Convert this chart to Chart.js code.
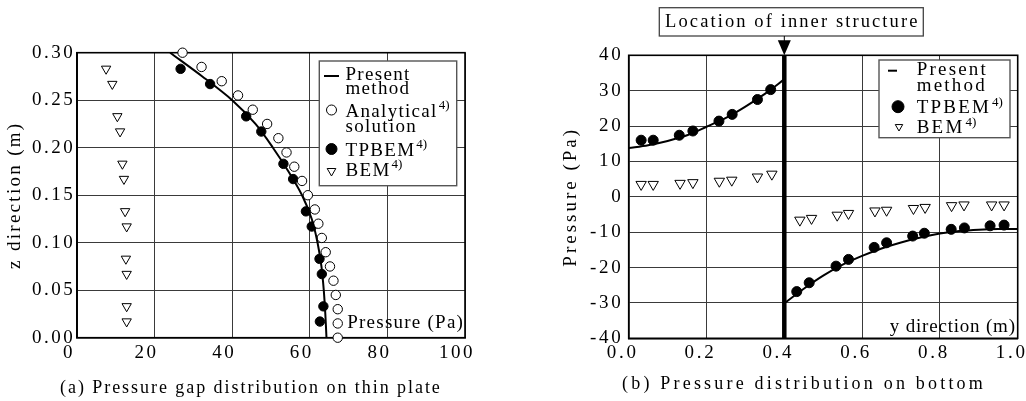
<!DOCTYPE html>
<html><head><meta charset="utf-8">
<script src="https://cdn.jsdelivr.net/npm/chart.js@4.4.1/dist/chart.umd.min.js"></script>
<style>
html,body{margin:0;padding:0;background:#fff;}
#wrap{position:relative;width:1026px;height:401px;overflow:hidden;background:#fff;}
#c1{position:absolute;left:0;top:0;}
#c2{position:absolute;left:513px;top:0;}
.cap{position:absolute;font-family:'Liberation Serif','Times New Roman',serif;font-size:18px;line-height:18px;color:#000;white-space:nowrap;}
#capA{left:60px;top:378px;letter-spacing:1.95px;}
#capB{left:622px;top:374px;letter-spacing:3.2px;}
</style></head><body>
<div id="wrap">
<canvas id="c1" width="513" height="401"></canvas>
<canvas id="c2" width="513" height="401"></canvas>
<div class="cap" id="capA">(a) Pressure gap distribution on thin plate</div>
<div class="cap" id="capB">(b) Pressure distribution on bottom</div>
</div>
<script>
// ---------- (a) Pressure gap distribution on thin plate ----------
const aXTicks = [0, 20, 40, 60, 80, 100];
const aYTicks = [0.00, 0.05, 0.10, 0.15, 0.20, 0.25, 0.30];
const aPresentZ = [0.300, 0.275, 0.250, 0.225, 0.200, 0.175, 0.150, 0.125, 0.100, 0.075, 0.050, 0.025, 0.000];
const aPresentP = [24.0, 32.3, 40.0, 46.0, 50.5, 54.5, 58.0, 60.5, 62.0, 63.0, 63.6, 64.0, 64.3];
const aAnalyticalZ = [0.300, 0.285, 0.270, 0.255, 0.240, 0.225, 0.210, 0.195, 0.180, 0.165, 0.150, 0.135, 0.120, 0.105, 0.090, 0.075, 0.060, 0.045, 0.030, 0.015, 0.000];
const aAnalyticalP = [27.2, 32.1, 37.3, 41.5, 45.3, 49.0, 51.9, 54.0, 56.0, 58.0, 59.5, 61.3, 62.2, 63.1, 64.1, 65.2, 66.1, 66.7, 67.2, 67.2, 67.2];
const aTPBEMZ = [0.283, 0.267, 0.233, 0.217, 0.183, 0.167, 0.133, 0.117, 0.083, 0.067, 0.033, 0.017];
const aTPBEMP = [26.7, 34.3, 43.6, 47.5, 53.2, 55.7, 59.0, 60.5, 62.5, 63.1, 63.5, 62.6];
const aBEMZ = [0.283, 0.267, 0.233, 0.217, 0.183, 0.167, 0.133, 0.117, 0.083, 0.067, 0.033, 0.017];
const aBEMP = [7.5, 9.1, 10.4, 11.1, 11.7, 12.1, 12.4, 12.8, 12.6, 12.8, 12.8, 12.8];

// ---------- (b) Pressure distribution on bottom ----------
const bXTicks = [0.0, 0.2, 0.4, 0.6, 0.8, 1.0];
const bYTicks = [-40, -30, -20, -10, 0, 10, 20, 30, 40];
const innerStructureY = 0.4;
const bPresentLeftY = [0.00, 0.05, 0.10, 0.15, 0.20, 0.25, 0.30, 0.35, 0.40];
const bPresentLeftP = [13.8, 14.6, 15.8, 17.4, 19.8, 22.3, 25.5, 29.1, 33.2];
const bPresentRightY = [0.40, 0.45, 0.50, 0.55, 0.60, 0.65, 0.70, 0.75, 0.80, 0.85, 0.90, 0.95, 1.00];
const bPresentRightP = [-30.1, -26.0, -22.3, -19.2, -16.7, -14.6, -12.9, -11.5, -10.4, -9.7, -9.3, -9.1, -9.1];
const bTPBEMY = [0.032, 0.063, 0.130, 0.165, 0.232, 0.266, 0.331, 0.365, 0.432, 0.464, 0.533, 0.565, 0.631, 0.663, 0.730, 0.760, 0.829, 0.863, 0.929, 0.965];
const bTPBEMP = [16.0, 16.0, 17.4, 18.6, 21.4, 23.3, 27.5, 30.3, -26.8, -24.3, -19.6, -17.7, -14.3, -13.0, -11.1, -10.3, -9.2, -8.8, -8.2, -8.0];
const bBEMY = [0.032, 0.063, 0.132, 0.165, 0.233, 0.265, 0.331, 0.368, 0.440, 0.470, 0.536, 0.565, 0.633, 0.663, 0.732, 0.762, 0.830, 0.862, 0.933, 0.965];
const bBEMP = [3.5, 3.5, 3.8, 4.0, 4.4, 4.7, 5.6, 6.4, -6.6, -6.1, -5.2, -4.7, -4.0, -3.8, -3.3, -3.0, -2.5, -2.3, -2.3, -2.3];

const FONT = "'Liberation Serif', 'Times New Roman', serif";
Chart.defaults.font.family = FONT;
Chart.defaults.font.size = 19;
Chart.defaults.color = '#000';

const pts = (xs, ys) => xs.map((x, i) => ({x: x, y: ys[i]}));

function fixSize(size, horizontal) {
  return function (s) {
    if (horizontal) s.height = size; else s.width = size;
    s.paddingLeft = 0; s.paddingRight = 0; s.paddingTop = 0; s.paddingBottom = 0;
  };
}
function setTicks(arr) { return function (s) { s.ticks = arr.map(v => ({value: v})); }; }

function drawMarker(ctx, ds, x, y, r, len) {
  ctx.save();
  if (!ds.pointRadius) {
    ctx.strokeStyle = ds.borderColor; ctx.lineWidth = ds.borderWidth;
    ctx.beginPath(); ctx.moveTo(x - len / 2, y); ctx.lineTo(x + len / 2, y); ctx.stroke();
  } else {
    ctx.fillStyle = ds.backgroundColor; ctx.strokeStyle = ds.borderColor; ctx.lineWidth = ds.borderWidth;
    if (Chart.helpers && Chart.helpers.drawPoint) {
      Chart.helpers.drawPoint(ctx, {pointStyle: ds.pointStyle, rotation: ds.rotation || 0, radius: r, borderWidth: ds.borderWidth}, x, y);
    } else {
      ctx.beginPath(); ctx.arc(x, y, r, 0, Math.PI * 2); ctx.fill(); ctx.stroke();
    }
  }
  ctx.restore();
}

function spacingPlugin(cfg) {
  return {
    id: 'spacing',
    afterLayout(chart) {
      Object.values(chart.scales).forEach(s => {
        if (s._spWrapped) return;
        s._spWrapped = true;
        const c = cfg[s.id] || {};
        const dl = s.drawLabels.bind(s), dt = s.drawTitle.bind(s);
        s.drawLabels = function (a) { const ctx = this.ctx; ctx.save(); ctx.letterSpacing = c.ticks || '0px'; dl(a); ctx.restore(); };
        s.drawTitle = function (a) { const ctx = this.ctx; ctx.save(); ctx.letterSpacing = c.title || '0px'; dt(a); ctx.restore(); };
      });
    }
  };
}

const framePlugin = {
  id: 'frame',
  beforeDatasetsDraw(chart) {
    const {ctx, chartArea: a} = chart;
    ctx.save(); ctx.strokeStyle = '#000'; ctx.lineWidth = 1.6;
    ctx.strokeRect(a.left, a.top, a.right - a.left, a.bottom - a.top);
    ctx.restore();
  }
};

function legendPlugin(L) {
  return {
    id: 'boxLegend',
    afterDraw(chart) {
      const ctx = chart.ctx;
      ctx.save();
      ctx.fillStyle = '#fff';
      ctx.fillRect(L.box[0], L.box[1], L.box[2], L.box[3]);
      ctx.strokeStyle = L.borderColor; ctx.lineWidth = L.borderWidth;
      ctx.strokeRect(L.box[0], L.box[1], L.box[2], L.box[3]);
      ctx.textAlign = 'left'; ctx.textBaseline = 'alphabetic';
      L.rows.forEach(r => {
        const ds = chart.data.datasets[r.ds];
        drawMarker(ctx, ds, L.markerX + (r.mdx || 0), r.my, r.mr, L.lineLen);
        r.lines.forEach(ln => {
          ctx.fillStyle = '#000';
          ctx.letterSpacing = L.spacing;
          ctx.font = L.size + 'px ' + FONT;
          ctx.fillText(ln[0], L.textX, ln[1]);
          if (ln[2]) {
            const w = ctx.measureText(ln[0]).width;
            ctx.letterSpacing = '0px';
            ctx.font = L.supSize + 'px ' + FONT;
            ctx.fillText(ln[2], L.textX + w + L.supGap, ln[1] - L.supRise);
          }
        });
      });
      ctx.restore();
    }
  };
}

function cornerLabelPlugin(C) {
  return {
    id: 'cornerLabel',
    afterDatasetsDraw(chart) {
      const {ctx, chartArea: a} = chart;
      ctx.save();
      ctx.letterSpacing = C.spacing;
      ctx.font = C.size + 'px ' + FONT;
      ctx.fillStyle = '#000'; ctx.textAlign = 'right'; ctx.textBaseline = 'alphabetic';
      ctx.fillText(C.text, a.right + C.dx, a.bottom + C.dy);
      ctx.restore();
    }
  };
}

const structurePlugin = {
  id: 'structure',
  afterDraw(chart) {
    const {ctx, chartArea: a} = chart;
    const px = chart.scales.x.getPixelForValue(innerStructureY);
    const box = {x: 146.3, y: 7.7, w: 264, h: 28.3};
    ctx.save();
    ctx.strokeStyle = '#444'; ctx.lineWidth = 1.3;
    ctx.strokeRect(box.x, box.y, box.w, box.h);
    ctx.letterSpacing = '2.1px';
    ctx.font = '18.5px ' + FONT;
    ctx.fillStyle = '#000'; ctx.textAlign = 'center'; ctx.textBaseline = 'alphabetic';
    ctx.fillText('Location of inner structure', box.x + box.w / 2 + 1, box.y + 19);
    ctx.strokeStyle = '#000'; ctx.lineWidth = 1;
    ctx.beginPath(); ctx.moveTo(px, box.y + box.h); ctx.lineTo(px, a.top - 14); ctx.stroke();
    ctx.fillStyle = '#000';
    ctx.beginPath(); ctx.moveTo(px - 6.5, a.top - 15); ctx.lineTo(px + 6.5, a.top - 15); ctx.lineTo(px, a.top); ctx.closePath(); ctx.fill();
    ctx.restore();
  }
};

const gridOpts = {color: '#3a3a3a', lineWidth: 1, drawTicks: false};
const borderOpts = {color: '#000', width: 1.6};

// ---------- chart (a) ----------
new Chart(document.getElementById('c1'), {
  type: 'scatter',
  data: {
    datasets: [
      {label: 'Present method', data: pts(aPresentP, aPresentZ), showLine: true, borderColor: '#000', borderWidth: 2, pointRadius: 0, tension: 0.3, clip: false},
      {label: 'Analytical solution', data: pts(aAnalyticalP, aAnalyticalZ), pointStyle: 'circle', pointRadius: 4.7, backgroundColor: '#fff', borderColor: '#000', borderWidth: 1, clip: false},
      {label: 'TPBEM', data: pts(aTPBEMP, aTPBEMZ), pointStyle: 'circle', pointRadius: 4.7, backgroundColor: '#000', borderColor: '#000', borderWidth: 1, clip: false},
      {label: 'BEM', data: pts(aBEMP, aBEMZ), pointStyle: 'triangle', rotation: 180, pointRadius: 5.4, backgroundColor: '#fff', borderColor: '#000', borderWidth: 1, clip: false}
    ]
  },
  options: {
    responsive: false, animation: false, devicePixelRatio: 1,
    layout: {padding: {left: 0, top: 52.7, right: 48, bottom: 0}},
    plugins: {legend: {display: false}, tooltip: {enabled: false}},
    scales: {
      x: {type: 'linear', min: 0, max: 100, afterBuildTicks: setTicks(aXTicks), afterFit: fixSize(63.3, true),
          grid: gridOpts, border: borderOpts,
          ticks: {padding: 4, labelOffset: -8, callback: v => String(v), font: {size: 19}}},
      y: {type: 'linear', min: 0, max: 0.3, afterBuildTicks: setTicks(aYTicks), afterFit: fixSize(77, false),
          grid: gridOpts, border: borderOpts,
          ticks: {padding: 1.8, callback: v => v.toFixed(2), font: {size: 19}},
          title: {display: true, text: 'z direction (m)', font: {size: 19}, padding: {top: 3.6, bottom: 0}}}
    }
  },
  plugins: [
    spacingPlugin({x: {ticks: '2.5px'}, y: {ticks: '2.5px', title: '2.3px'}}),
    framePlugin,
    cornerLabelPlugin({text: 'Pressure (Pa)', dx: -0.8, dy: -10, spacing: '1.25px', size: 19}),
    legendPlugin({
      box: [319.3, 61, 137.4, 124.7], borderColor: '#555', borderWidth: 1.4,
      markerX: 331.5, lineLen: 15, textX: 345.5, size: 19, spacing: '1.3px', supSize: 13, supGap: 1, supRise: 7.5,
      rows: [
        {ds: 0, my: 76, mr: 0, lines: [['Present', 80], ['method', 94.3]]},
        {ds: 1, my: 110, mr: 5, lines: [['Analytical', 116.7, '4)'], ['solution', 131.7]]},
        {ds: 2, my: 149, mr: 5.5, lines: [['TPBEM', 155.7, '4)']]},
        {ds: 3, my: 171, mr: 5, lines: [['BEM', 175.7, '4)']]}
      ]
    })
  ]
});

// ---------- chart (b) ----------
new Chart(document.getElementById('c2'), {
  type: 'scatter',
  data: {
    datasets: [
      {label: 'Present method', data: pts(bPresentLeftY, bPresentLeftP), showLine: true, borderColor: '#000', borderWidth: 2, pointRadius: 0, tension: 0.3, clip: false},
      {label: 'TPBEM', data: pts(bTPBEMY, bTPBEMP), pointStyle: 'circle', pointRadius: 5, backgroundColor: '#000', borderColor: '#000', borderWidth: 1, clip: false},
      {label: 'BEM', data: pts(bBEMY, bBEMP), pointStyle: 'triangle', rotation: 180, pointRadius: 6, backgroundColor: '#fff', borderColor: '#000', borderWidth: 1, clip: false},
      {label: 'Present method (right)', data: pts(bPresentRightY, bPresentRightP), showLine: true, borderColor: '#000', borderWidth: 2, pointRadius: 0, tension: 0.3, clip: false},
      {label: 'Location of inner structure', data: pts([innerStructureY, innerStructureY], [-40, 40]), showLine: true, borderColor: '#000', borderWidth: 4.5, pointRadius: 0, clip: false}
    ]
  },
  options: {
    responsive: false, animation: false, devicePixelRatio: 1,
    layout: {padding: {left: 0, top: 55.3, right: 8.3, bottom: 0}},
    plugins: {legend: {display: false}, tooltip: {enabled: false}},
    scales: {
      x: {type: 'linear', min: 0, max: 1, afterBuildTicks: setTicks(bXTicks), afterFit: fixSize(62.7, true),
          grid: gridOpts, border: borderOpts,
          ticks: {padding: 3.3, labelOffset: -6, callback: v => v.toFixed(1), font: {size: 19}}},
      y: {type: 'linear', min: -40, max: 40, afterBuildTicks: setTicks(bYTicks), afterFit: fixSize(115.7, false),
          grid: gridOpts, border: borderOpts,
          ticks: {padding: 5.3, callback: v => String(v), font: {size: 19}},
          title: {display: true, text: 'Pressure (Pa)', font: {size: 19}, padding: {top: 47, bottom: 0}}}
    }
  },
  plugins: [
    spacingPlugin({x: {ticks: '2.7px'}, y: {ticks: '2.7px', title: '3px'}}),
    framePlugin,
    structurePlugin,
    cornerLabelPlugin({text: 'y direction (m)', dx: -1.9, dy: -6.6, spacing: '0.8px', size: 19}),
    legendPlugin({
      box: [366, 60, 131, 77.7], borderColor: '#555', borderWidth: 1.4,
      markerX: 385, lineLen: 9, textX: 403.7, size: 19, spacing: '2.2px', supSize: 13, supGap: 1, supRise: 7.5,
      rows: [
        {ds: 0, my: 70.7, mr: 0, mdx: -5.5, lines: [['Present', 75], ['method', 90.7]]},
        {ds: 1, my: 106.7, mr: 6, lines: [['TPBEM', 113.3, '4)']]},
        {ds: 2, my: 126.7, mr: 4.3, mdx: 1, lines: [['BEM', 133.3, '4)']]}
      ]
    })
  ]
});
</script>
</body></html>
